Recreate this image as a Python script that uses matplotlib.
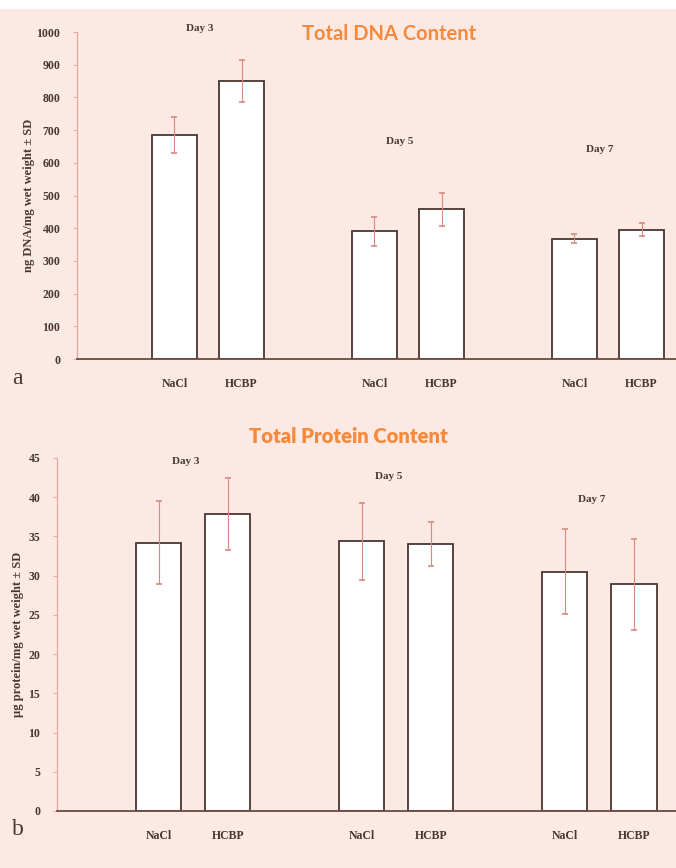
import numpy as np
import matplotlib
matplotlib.use("Agg")
import matplotlib.pyplot as plt

days = ["Day 3", "Day 5", "Day 7"]
treatments = ["NaCl", "HCBP"]

dna_nacl = [685, 390, 368]
dna_nacl_sd = [55, 45, 13]
dna_hcbp = [850, 458, 395]
dna_hcbp_sd = [63, 50, 20]
dna_day_label_y = [1010, 665, 640]

prot_nacl = [34.2, 34.4, 30.5]
prot_nacl_sd = [5.3, 4.9, 5.4]
prot_hcbp = [37.9, 34.0, 28.9]
prot_hcbp_sd = [4.6, 2.8, 5.8]
prot_day_label_y = [44.6, 42.6, 39.7]

bg = "#fce9e3"
dark = "#4a3631"
pinkline = "#e7a294"
orange = "#f7893a"
serif = "Liberation Serif"

fig = plt.figure(figsize=(6.76, 8.68), dpi=100, facecolor=bg)
fig.patches.append(plt.Rectangle((0, 0.991), 1, 0.009, transform=fig.transFigure,
                                  color="white", zorder=0))


def panel(rect, xlim, width, off, nacl, nacl_sd, hcbp, hcbp_sd, ymax, ystep,
          ylabel, day_y, lpad):
    ax = fig.add_axes(rect)
    ax.set_facecolor("none")
    x = np.arange(len(days))
    for vals, sds, sign in [(nacl, nacl_sd, -1), (hcbp, hcbp_sd, 1)]:
        pos = x + sign * off
        ax.bar(pos, vals, width, color="white", edgecolor=dark, linewidth=1.3, zorder=2)
        _, caps, lines = ax.errorbar(pos, vals, yerr=sds, fmt="none", ecolor="#d98a7e",
                                     elinewidth=0.8, capsize=2.5, capthick=1.2, zorder=3)
        for c in caps:
            c.set_color("#5a4a48")
    ax.set_xlim(*xlim)
    ax.set_ylim(0, ymax)
    ax.set_yticks(np.arange(0, ymax + ystep / 2, ystep))
    ticks = np.concatenate([x - off, x + off])
    ax.set_xticks(ticks)
    ax.set_xticklabels(treatments[:1] * 3 + treatments[1:] * 3)
    for lab in ax.get_xticklabels() + ax.get_yticklabels():
        lab.set_fontfamily(serif)
        lab.set_fontweight("bold")
        lab.set_fontsize(8.5)
        lab.set_color(dark)
    ax.tick_params(axis="x", length=0, pad=14)
    ax.tick_params(axis="y", length=3, color=pinkline, width=0.6, pad=9)
    for s in ["top", "right"]:
        ax.spines[s].set_visible(False)
    ax.spines["left"].set_color(pinkline)
    ax.spines["left"].set_linewidth(0.8)
    ax.spines["bottom"].set_color("#6b4a40")
    ax.spines["bottom"].set_linewidth(1.3)
    ax.set_ylabel(ylabel, fontfamily=serif, fontweight="bold", fontsize=9,
                  color=dark, labelpad=lpad)
    for xi, d, yy in zip(x, days, day_y):
        ax.text(xi - 0.04, yy, d, ha="center", va="center", fontfamily=serif,
                fontweight="bold", fontsize=8, color=dark)
    return ax


panel([0.114, 0.5864, 0.886, 0.3767], (-0.655, 2.34), 0.225, 0.168,
      dna_nacl, dna_nacl_sd, dna_hcbp, dna_hcbp_sd, 1000, 100,
      "ng DNA/mg wet weight \u00b1 SD", dna_day_label_y, 1)

panel([0.0843, 0.0657, 0.9157, 0.4067], (-0.672, 2.377), 0.222, 0.17,
      prot_nacl, prot_nacl_sd, prot_hcbp, prot_hcbp_sd, 45, 5,
      "\u00b5g protein/mg wet weight \u00b1 SD", prot_day_label_y, 3)

fig.text(0.018, 0.5645, "a", ha="left", va="center", fontfamily=serif,
         fontsize=17, color=dark)
fig.text(0.018, 0.0438, "b", ha="left", va="center", fontfamily=serif,
         fontsize=17, color=dark)

fig.text(0.575, 0.961, "Total DNA Content", ha="center", va="center",
         fontfamily="Lato", fontweight="bold", fontsize=14.5, color=orange)
fig.text(0.516, 0.497, "Total Protein Content", ha="center", va="center",
         fontfamily="Lato", fontweight="heavy", fontsize=14.6, color=orange)

fig.savefig("out.png", dpi=100, facecolor=bg)
